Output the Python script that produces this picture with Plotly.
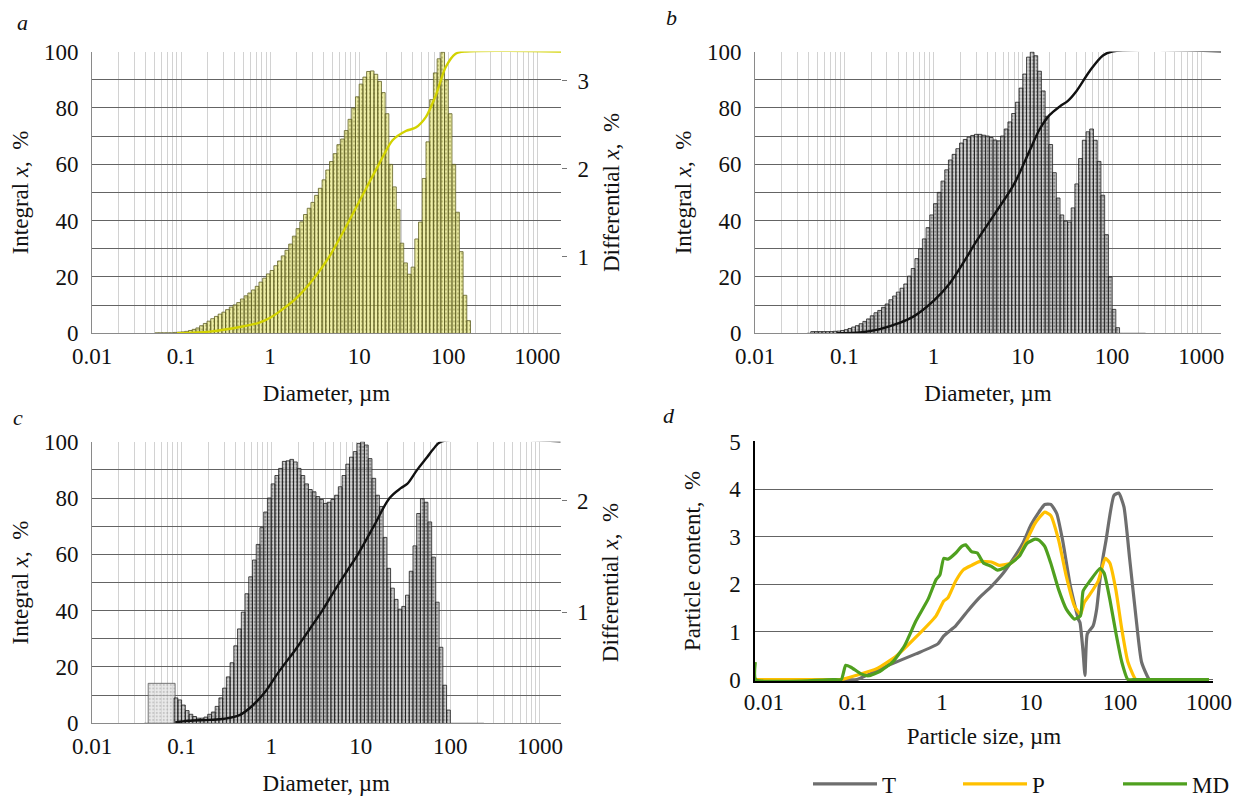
import plotly.graph_objects as go

# ---------------- data ----------------
# log-spaced bin edges (µm) used by the laser-diffraction histograms
edges_um = [0.03831, 0.04217, 0.04642, 0.05109, 0.05623, 0.06190, 0.06813, 0.07499, 0.08254, 0.09085,
            0.1, 0.1101, 0.1212, 0.1334, 0.1468, 0.1616, 0.1778, 0.1957, 0.2154, 0.2371,
            0.2610, 0.2873, 0.3162, 0.3481, 0.3831, 0.4217, 0.4642, 0.5109, 0.5623, 0.6190,
            0.6813, 0.7499, 0.8254, 0.9085, 1.0, 1.101, 1.212, 1.334, 1.468, 1.616,
            1.778, 1.957, 2.154, 2.371, 2.610, 2.873, 3.162, 3.481, 3.831, 4.217,
            4.642, 5.109, 5.623, 6.190, 6.813, 7.499, 8.254, 9.085, 10.0, 11.01,
            12.12, 13.34, 14.68, 16.16, 17.78, 19.57, 21.54, 23.71, 26.10, 28.73,
            31.62, 34.81, 38.31, 42.17, 46.42, 51.09, 56.23, 61.90, 68.13, 74.99,
            82.54, 90.85, 100.0, 110.1, 121.2, 133.4, 146.8, 161.6, 177.8, 195.7,
            215.4, 237.1]

# differential distributions (%), one value per bin
diff_a = [0, 0, 0, 0.136, 0.136, 0.136, 0.136, 0.136, 0.140, 0.143,
          0.146, 0.152, 0.162, 0.175, 0.191, 0.216, 0.242, 0.268, 0.296, 0.322,
          0.348, 0.370, 0.399, 0.428, 0.453, 0.479, 0.520, 0.556, 0.588, 0.623,
          0.664, 0.712, 0.757, 0.805, 0.844, 0.898, 0.952, 1.010, 1.074, 1.144,
          1.234, 1.320, 1.397, 1.480, 1.551, 1.618, 1.698, 1.778, 1.874, 1.986,
          2.082, 2.172, 2.274, 2.338, 2.434, 2.562, 2.690, 2.818, 2.962, 3.042,
          3.106, 3.112, 3.074, 2.994, 2.866, 2.626, 2.050, 1.794, 1.538, 1.154,
          0.930, 0.802, 0.882, 1.202, 1.394, 1.890, 2.306, 2.786, 3.090, 3.250,
          3.324, 3.010, 2.626, 2.050, 1.506, 1.058, 0.562, 0.274, 0, 0, 0]

diff_b = [0, 0.017, 0.017, 0.017, 0.017, 0.017, 0.017, 0.020, 0.022, 0.028,
          0.036, 0.048, 0.062, 0.076, 0.095, 0.118, 0.143, 0.174, 0.204, 0.227,
          0.258, 0.291, 0.333, 0.370, 0.409, 0.448, 0.490, 0.568, 0.644, 0.742,
          0.840, 0.938, 1.050, 1.176, 1.288, 1.400, 1.512, 1.624, 1.722, 1.778,
          1.834, 1.890, 1.926, 1.949, 1.966, 1.977, 1.977, 1.968, 1.960, 1.946,
          1.921, 1.912, 1.960, 2.030, 2.100, 2.184, 2.296, 2.436, 2.576, 2.744,
          2.794, 2.758, 2.604, 2.408, 2.156, 1.876, 1.596, 1.344, 1.176, 1.114,
          1.106, 1.246, 1.484, 1.736, 1.918, 2.002, 2.030, 1.918, 1.708, 1.372,
          0.980, 0.560, 0.238, 0.056, 0, 0, 0, 0, 0, 0, 0]

diff_c = [0, 0, 0, 0, 0, 0, 0, 0, 0.228, 0.210,
          0.164, 0.114, 0.081, 0.061, 0.046, 0.046, 0.056, 0.081, 0.101, 0.152,
          0.228, 0.316, 0.417, 0.544, 0.696, 0.848, 0.999, 1.164, 1.316, 1.467,
          1.607, 1.758, 1.898, 2.024, 2.151, 2.226, 2.290, 2.353, 2.358, 2.371,
          2.348, 2.290, 2.226, 2.151, 2.100, 2.080, 2.037, 2.011, 1.976, 1.986,
          2.011, 2.049, 2.125, 2.226, 2.328, 2.391, 2.441, 2.515, 2.530, 2.500,
          2.378, 2.201, 2.049, 1.948, 1.670, 1.392, 1.214, 1.113, 1.025, 1.050,
          1.151, 1.366, 1.594, 1.885, 2.019, 1.986, 1.809, 1.493, 1.088, 0.683,
          0.342, 0.119, 0, 0, 0, 0, 0, 0, 0, 0, 0]

# first (wide) fraction of sample c
wide_edges_c = [0.0424, 0.0847]
wide_value_c = [0.359]

# integral (cumulative) distributions, %
cum_a_um = [0.09, 0.21, 0.49, 0.76, 1.0, 1.27, 1.96, 3.0, 4.62, 7.1, 10.9, 16.8, 23.7, 33.4,
            43.2, 56, 72.4, 93.8, 121, 157, 2000]
cum_a_pct = [0, 0.6, 2.4, 3.8, 5.5, 7.7, 12.4, 18.9, 27.2, 37.8, 49, 60.2, 68.5, 71.8,
             73, 76.7, 84.4, 94.5, 99.2, 100, 100]

cum_b_um = [0.083, 0.15, 0.25, 0.4, 0.6, 1.0, 1.5, 2.15, 3.0, 5.0, 8.0, 12, 15.5,
            20, 26, 32, 40, 56, 79, 100, 2000]
cum_b_pct = [0, 0.3, 1.5, 3.5, 6.0, 11.5, 17.5, 25, 32.5, 43, 53, 65, 72.5,
             77.5, 80.5, 82.5, 86, 93, 98.6, 100, 100]

cum_c_um = [0.085, 0.12, 0.2, 0.3, 0.45, 0.63, 0.85, 1.2, 1.9, 2.7, 3.72, 5.3, 7.0,
            9.3, 14, 21, 28, 33, 42.6, 55, 65, 79, 2000]
cum_c_pct = [0.3, 0.9, 1.2, 1.6, 3.0, 6.5, 11, 18, 26.5, 33.5, 40, 48, 54,
             60, 70, 80, 83.5, 85, 90, 94.5, 97.5, 100, 100]

# panel d: particle content (%)
t_um = [0.008, 0.08, 0.11, 0.25, 0.51, 0.9, 1.05, 1.43, 1.95, 2.64, 3.6, 4.9, 6.6, 8.1, 10, 12.3,
        14.3, 16.7, 19.5, 22.7, 27.8, 34.1, 35.6, 38.5, 40.5, 43, 50, 54.8, 59.7, 64, 69.9,
        85.7, 97, 111, 129, 151, 175, 215, 260, 1000]
t_pct = [0, 0, 0, 0.3, 0.54, 0.75, 0.92, 1.13, 1.44, 1.72, 1.96, 2.24, 2.59, 2.86, 3.25, 3.52,
         3.68, 3.68, 3.49, 2.93, 1.96, 1.27, 1.2, 0.6, 0.09, 0.96, 1.13, 1.48, 2.1, 2.52, 2.93,
         3.87, 3.92, 3.63, 2.52, 1.34, 0.37, 0, 0, 0]

p_um = [0.008, 0.06, 0.074, 0.11, 0.185, 0.31, 0.51, 0.86, 1.05, 1.17, 1.43, 1.75, 2.15, 2.64, 3.6,
        4.4, 6.0, 7.4, 9.0, 11.1, 14.3, 16.7, 20.5, 25, 30.8, 36, 39.8, 46, 57, 68.5, 77,
        90, 105, 123, 151, 180, 1000]
p_pct = [0, 0, 0, 0.09, 0.23, 0.5, 0.89, 1.34, 1.65, 1.72, 2.07, 2.31, 2.4, 2.48, 2.47,
         2.4, 2.45, 2.62, 2.93, 3.28, 3.52, 3.45, 2.93, 2.17, 1.55, 1.37, 1.62, 1.79, 2.07, 2.55, 2.45,
         1.89, 1.06, 0.37, 0, 0, 0]

md_um = [0.008, 0.0081, 0.06, 0.074, 0.083, 0.095, 0.123, 0.15, 0.2, 0.28, 0.38, 0.51, 0.7, 0.86, 0.95,
         1.05, 1.17, 1.43, 1.67, 1.85, 2.15, 2.5, 2.93, 3.6, 4.2, 4.9, 6.0, 7.4, 9.0, 11.1, 12.3,
         14.3, 16.7, 20.5, 25, 30.8, 36, 38.6, 46, 60, 66.4, 77, 90, 105, 123, 150, 1000]
md_pct = [0.37, 0, 0, 0, 0.30, 0.26, 0.12, 0.08, 0.17, 0.37, 0.71, 1.23, 1.69, 2.1, 2.2,
          2.55, 2.53, 2.66, 2.8, 2.83, 2.69, 2.66, 2.45, 2.38, 2.3, 2.34, 2.45, 2.59, 2.86, 2.95, 2.93,
          2.8, 2.45, 1.89, 1.48, 1.27, 1.34, 1.86, 2.07, 2.34, 2.24, 1.69, 0.99, 0.37, 0, 0, 0]

x_tick_vals = [0.01, 0.1, 1, 10, 100, 1000]
x_tick_text = ["0.01", "0.1", "1", "10", "100", "1000"]

# ---------------- helpers ----------------
W, H = 1240, 798
FONT = "Liberation Serif"
TXT = "#111111"


def dom_x(a, b):
    return [a / W, b / W]


def dom_y(top, bottom):
    return [1 - bottom / H, 1 - top / H]


def step_xy(edges, vals):
    xs, ys = [], []
    for i, v in enumerate(vals):
        l, r = edges[i], edges[i + 1]
        xs += [l, l, r, r]
        ys += [0, v, v, 0]
    return xs, ys


minor_grid = [m * 10 ** e for e in range(-3, 4) for m in range(2, 10)]
tickfont = dict(family=FONT, size=23, color=TXT)
titlefont = dict(family=FONT, size=23, color=TXT)

fig = go.Figure()

yellow_pat = dict(shape=".", bgcolor="rgba(228,228,110,0.6)", fgcolor="rgba(110,110,30,0.75)",
                  size=4, solidity=0.3)
gray_pat = dict(shape=".", bgcolor="rgba(175,175,175,0.55)", fgcolor="rgba(25,25,25,0.8)",
                size=3.5, solidity=0.4)
light_pat = dict(shape=".", bgcolor="rgba(220,220,220,0.6)", fgcolor="rgba(120,120,120,0.6)",
                 size=3.5, solidity=0.3)

# panel a
xs, ys = step_xy(edges_um, diff_a)
fig.add_trace(go.Scatter(x=xs, y=ys, mode="lines", line=dict(color="#5f5f25", width=0.8),
                         fill="tozeroy", fillpattern=yellow_pat, xaxis="x", yaxis="y",
                         showlegend=False, hoverinfo="skip"))
fig.add_trace(go.Scatter(x=cum_a_um, y=cum_a_pct, mode="lines",
                         line=dict(color="#d2d200", width=2.4, shape="spline", smoothing=0.8),
                         xaxis="x", yaxis="y2", showlegend=False, hoverinfo="skip"))

# panel b
xs, ys = step_xy(edges_um, diff_b)
fig.add_trace(go.Scatter(x=xs, y=ys, mode="lines", line=dict(color="#1e1e1e", width=0.8),
                         fill="tozeroy", fillpattern=gray_pat, xaxis="x2", yaxis="y3",
                         showlegend=False, hoverinfo="skip"))
fig.add_trace(go.Scatter(x=cum_b_um, y=cum_b_pct, mode="lines",
                         line=dict(color="#111111", width=2.4, shape="spline", smoothing=1.0),
                         xaxis="x2", yaxis="y4", showlegend=False, hoverinfo="skip"))

# panel c
xs, ys = step_xy(wide_edges_c, wide_value_c)
fig.add_trace(go.Scatter(x=xs, y=ys, mode="lines", line=dict(color="#555555", width=0.8),
                         fill="tozeroy", fillpattern=light_pat, xaxis="x3", yaxis="y5",
                         showlegend=False, hoverinfo="skip"))
xs, ys = step_xy(edges_um, diff_c)
fig.add_trace(go.Scatter(x=xs, y=ys, mode="lines", line=dict(color="#1e1e1e", width=0.8),
                         fill="tozeroy", fillpattern=gray_pat, xaxis="x3", yaxis="y5",
                         showlegend=False, hoverinfo="skip"))
fig.add_trace(go.Scatter(x=cum_c_um, y=cum_c_pct, mode="lines",
                         line=dict(color="#111111", width=2.4, shape="spline", smoothing=1.0),
                         xaxis="x3", yaxis="y6", showlegend=False, hoverinfo="skip"))

# panel d
for name, xv, yv, col, lg in [("T", t_um, t_pct, "#6e6e6e", "legend"),
                              ("P", p_um, p_pct, "#FFC000", "legend2"),
                              ("MD", md_um, md_pct, "#4FA01F", "legend3")]:
    fig.add_trace(go.Scatter(x=xv, y=yv, mode="lines", name=name, legend=lg,
                             line=dict(color=col, width=3.2, shape="spline", smoothing=0.5),
                             xaxis="x4", yaxis="y7", hoverinfo="skip"))


def hist_xaxis(domain, anchor, rng):
    return dict(type="log", domain=domain, anchor=anchor, range=rng,
                tickmode="array", tickvals=x_tick_vals, ticktext=x_tick_text,
                showgrid=True, gridcolor="#d2d2d2", gridwidth=1,
                minor=dict(tickmode="array", tickvals=minor_grid, showgrid=True,
                           gridcolor="#d2d2d2", gridwidth=1, ticks=""),
                showline=True, linecolor="#8a8a8a", linewidth=1, ticks="",
                ticklabelstandoff=2, tickfont=tickfont, zeroline=False, automargin=False,
                title=dict(text="Diameter, µm", font=titlefont, standoff=16))


int_vals = [0, 10, 20, 30, 40, 50, 60, 70, 80, 90, 100]
int_text = ["0", "", "20", "", "40", "", "60", "", "80", "", "100"]


def integral_yaxis(overlay, anchor):
    return dict(overlaying=overlay, anchor=anchor, side="left", range=[0, 100],
                tickmode="array", tickvals=int_vals, ticktext=int_text,
                showgrid=True, gridcolor="#646464", gridwidth=1.4,
                showline=True, linecolor="#8a8a8a", linewidth=1, ticks="",
                ticklabelstandoff=8, tickfont=tickfont, zeroline=False, automargin=False,
                title=dict(text="Integral <i>x</i>,  %", font=titlefont, standoff=8))


dA_x, dA_y = dom_x(92, 561), dom_y(51.5, 333.3)
dB_x, dB_y = dom_x(755, 1221), dom_y(51.5, 333.3)
dC_x, dC_y = dom_x(92, 560.5), dom_y(441.7, 723.3)
dD_x, dD_y = dom_x(755, 1213), dom_y(440.7, 681)

legend_common = dict(orientation="h", xanchor="left", y=1 - 784 / H, yanchor="middle",
                     itemwidth=64, font=dict(family=FONT, size=23, color=TXT),
                     bgcolor="rgba(0,0,0,0)")

fig.update_layout(
    width=W, height=H, margin=dict(l=0, r=0, t=0, b=0, autoexpand=False),
    paper_bgcolor="white", plot_bgcolor="white",
    font=dict(family=FONT, size=23, color=TXT),
    hovermode=False,
    xaxis=hist_xaxis(dA_x, "y", [-2, 3.266]),
    yaxis=dict(domain=dA_y, anchor="x", side="right", range=[0.13, 3.333],
               tickmode="array", tickvals=[1, 2, 3], showgrid=False, zeroline=False,
               ticks="outside", ticklen=5, tickcolor="#777777", ticklabelstandoff=6,
               tickfont=tickfont, automargin=False,
               title=dict(text="Differential <i>x</i>,  %", font=titlefont, standoff=14)),
    yaxis2=integral_yaxis("y", "x"),
    xaxis2=hist_xaxis(dB_x, "y3", [-2, 3.22]),
    yaxis3=dict(domain=dB_y, anchor="x2", side="right", range=[0, 2.8],
                showticklabels=False, showgrid=False, zeroline=False, ticks=""),
    yaxis4=integral_yaxis("y3", "x2"),
    xaxis3=hist_xaxis(dC_x, "y5", [-2, 3.23]),
    yaxis5=dict(domain=dC_y, anchor="x3", side="right", range=[0, 2.53],
                tickmode="array", tickvals=[1, 2], showgrid=False, zeroline=False,
                ticks="outside", ticklen=5, tickcolor="#777777", ticklabelstandoff=6,
                tickfont=tickfont, automargin=False,
                title=dict(text="Differential <i>x</i>,  %", font=titlefont, standoff=14)),
    yaxis6=integral_yaxis("y5", "x3"),
    xaxis4=dict(type="log", domain=dD_x, anchor="y7", range=[-2.1, 3.046],
                tickmode="array", tickvals=x_tick_vals, ticktext=x_tick_text,
                showgrid=False, showline=True, linecolor="#000000", linewidth=1.5,
                layer="below traces", ticks="", ticklabelstandoff=0, tickfont=tickfont,
                zeroline=False, automargin=False,
                title=dict(text="Particle size, µm", font=titlefont, standoff=14)),
    yaxis7=dict(domain=dD_y, anchor="x4", range=[-0.03, 5.02], tickmode="array",
                tickvals=[0, 1, 2, 3, 4, 5], showgrid=True, gridcolor="#646464", gridwidth=1.4,
                showline=True, linecolor="#000000", linewidth=1.5, zeroline=False,
                ticks="", ticklabelstandoff=8, tickfont=tickfont, automargin=False,
                title=dict(text="Particle content,  %", font=titlefont, standoff=22)),
    legend=dict(x=808 / W, **legend_common),
    legend2=dict(x=958 / W, **legend_common),
    legend3=dict(x=1118 / W, **legend_common),
)

for letter, px, py in [("a", 22, 22), ("b", 671, 18), ("c", 18, 417), ("d", 669, 415)]:
    fig.add_annotation(text=f"<i>{letter}</i>", x=px / W, y=1 - py / H, xref="paper", yref="paper",
                       xanchor="center", yanchor="middle", showarrow=False,
                       font=dict(family=FONT, size=22, color=TXT))

fig.write_html("out.html", config=dict(displayModeBar=False))
